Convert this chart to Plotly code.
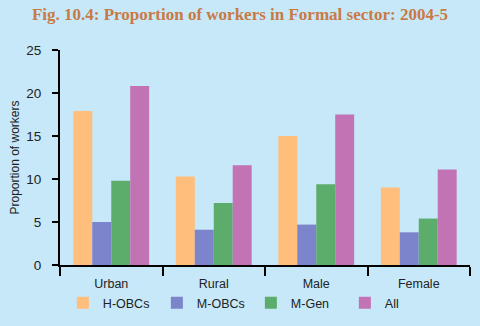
import plotly.graph_objects as go

categories = ["Urban", "Rural", "Male", "Female"]
series_names = ["H-OBCs", "M-OBCs", "M-Gen", "All"]
h_obcs = [17.9, 10.3, 15.0, 9.0]
m_obcs = [5.0, 4.1, 4.7, 3.8]
m_gen = [9.8, 7.2, 9.4, 5.4]
all_vals = [20.8, 11.6, 17.5, 11.1]
y_ticks = [0, 5, 10, 15, 20, 25]

colors = ["#FFBE7C", "#7C84CB", "#5CAC6B", "#C273B3"]
values = [h_obcs, m_obcs, m_gen, all_vals]

fig = go.Figure()
for name, vals, col in zip(series_names, values, colors):
    fig.add_trace(go.Bar(x=categories, y=vals, name=name,
                         marker=dict(color=col, line=dict(width=0))))

bg = "#C7E8F9"
fig.update_layout(
    width=480, height=326,
    margin=dict(l=60, r=10, t=50, b=61, autoexpand=False),
    paper_bgcolor=bg, plot_bgcolor=bg,
    barmode="group", bargap=0.26, bargroupgap=0,
    title=dict(text="<b>Fig. 10.4: Proportion of workers in Formal sector: 2004-5</b>",
               x=0.5, xanchor="center", y=1 - 14/326, yanchor="middle",
               font=dict(family="Liberation Serif", size=17, color="#C87A44")),
    font=dict(family="Liberation Sans", color="#222222"),
    showlegend=True,
    legend=dict(orientation="h", x=0.007, xanchor="left", y=-38/215, yanchor="middle",
                font=dict(size=12.5, color="#222222"), bgcolor="rgba(0,0,0,0)",
                itemwidth=30, traceorder="normal",
                entrywidth=49, entrywidthmode="pixels"),
    xaxis=dict(showline=True, linecolor="black", linewidth=2, ticks="outside",
               tickson="boundaries", ticklen=9, tickwidth=2, tickcolor="black",
               showgrid=False, ticklabelstandoff=6,
               tickfont=dict(size=12.5, color="#222222")),
    yaxis=dict(range=[0, 25], tickvals=y_ticks, showline=True, linecolor="black",
               linewidth=2, ticks="outside", ticklen=6, tickwidth=1.5, tickcolor="black",
               showgrid=False, zeroline=False, ticklabelstandoff=8,
               tickfont=dict(size=13.5, color="#222222"),
               title=dict(text="Proportion of workers", standoff=4,
                          font=dict(size=12, color="#222222"))),
)

fig.write_html("out.html")
